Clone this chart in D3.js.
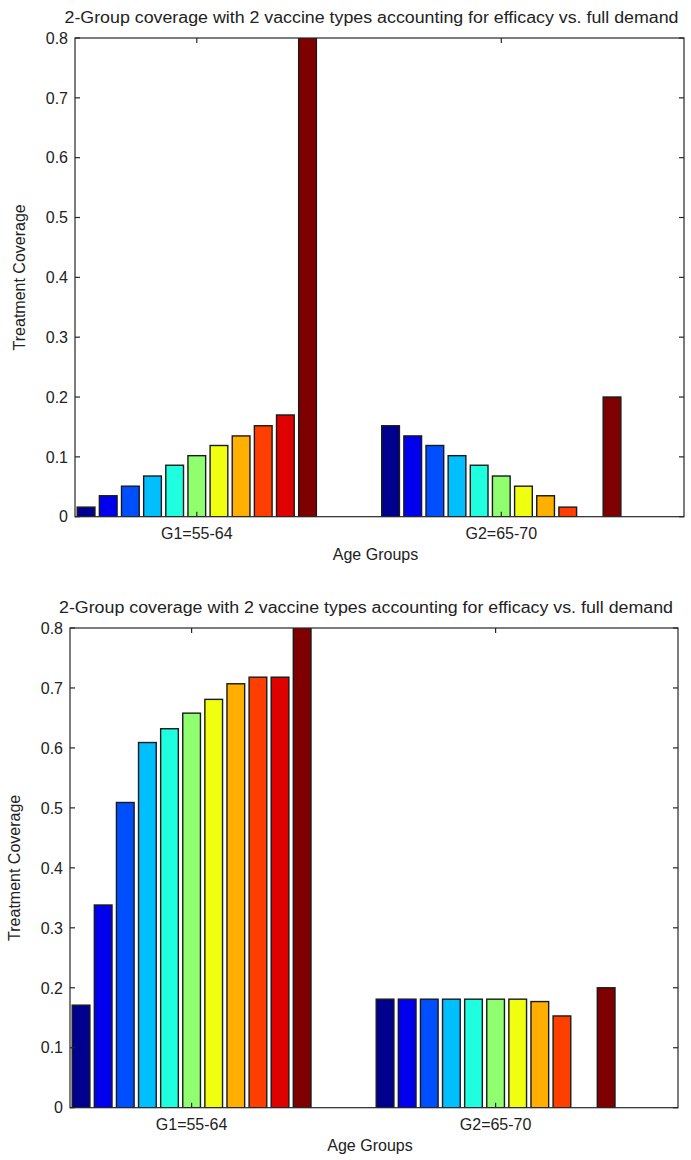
<!DOCTYPE html>
<html>
<head>
<meta charset="utf-8">
<script src="https://cdn.jsdelivr.net/npm/d3@7"></script>
<style>
  html, body { margin: 0; padding: 0; background: #fff; }
  svg { display: block; }
  text { font-family: "Liberation Sans", Arial, sans-serif; fill: #222; }
</style>
</head>
<body>
<svg id="chart" width="691" height="1160"></svg>
<script>
// ---- Data ----
const categories = ["G1=55-64", "G2=65-70"];
const seriesColors = ["#00008f", "#0000ef", "#004fff", "#00bfff", "#1fffdf",
                      "#8fff6f", "#efff0f", "#ffaf00", "#ff3f00", "#df0000", "#7f0000"];
const titleText = "2-Group coverage with 2 vaccine types accounting for efficacy vs. full demand";
const yLabelText = "Treatment Coverage";
const xLabelText = "Age Groups";
const yTickValues = [0, 0.1, 0.2, 0.3, 0.4, 0.5, 0.6, 0.7, 0.8];
const yTickLabels = ["0", "0.1", "0.2", "0.3", "0.4", "0.5", "0.6", "0.7", "0.8"];

// top chart (last G1 bar extends beyond the axis top)
const topG1 = [0.016, 0.035, 0.051, 0.068, 0.086, 0.102, 0.119, 0.135, 0.152, 0.170, 1.0];
const topG2 = [0.152, 0.135, 0.119, 0.102, 0.086, 0.068, 0.051, 0.035, 0.016, 0, 0.200];
// bottom chart
const bottomG1 = [0.171, 0.338, 0.509, 0.609, 0.632, 0.658, 0.681, 0.707, 0.718, 0.718, 1.0];
const bottomG2 = [0.181, 0.181, 0.181, 0.181, 0.181, 0.181, 0.181, 0.177, 0.153, 0, 0.200];

const svg = d3.select("#chart");

function drawChart(opts) {
  const { left, right, top, bottom, groups, id } = opts;
  const g = svg.append("g");
  const x = d3.scaleLinear().domain([0.6, 2.6]).range([left, right]);
  const y = d3.scaleLinear().domain([0, 0.8]).range([bottom, top]);
  const nS = seriesColors.length;
  const groupWidth = 0.8;
  const slot = groupWidth / nS;
  const barW = slot * 0.8;

  g.append("clipPath").attr("id", id).append("rect")
    .attr("x", left).attr("y", top).attr("width", right - left).attr("height", bottom - top);

  const bars = g.append("g").attr("clip-path", `url(#${id})`);
  groups.forEach((vals, gi) => {
    vals.forEach((v, si) => {
      if (v <= 0) return;
      const cx = (gi + 1) - groupWidth / 2 + (si + 0.5) * slot;
      const x0 = x(cx - barW / 2), x1 = x(cx + barW / 2);
      bars.append("rect")
        .attr("x", x0).attr("width", x1 - x0)
        .attr("y", y(v)).attr("height", y(0) - y(v))
        .attr("fill", seriesColors[si])
        .attr("stroke", "#1a1a1a").attr("stroke-width", 1.4);
    });
  });

  // box
  g.append("rect").attr("x", left).attr("y", top)
    .attr("width", right - left).attr("height", bottom - top)
    .attr("fill", "none").attr("stroke", "#262626").attr("stroke-width", 1.2);

  const tl = 5;
  // y ticks (inside, both sides)
  yTickValues.forEach((t, i) => {
    const yy = y(t);
    g.append("line").attr("x1", left).attr("x2", left + tl).attr("y1", yy).attr("y2", yy)
      .attr("stroke", "#262626").attr("stroke-width", 1.2);
    g.append("line").attr("x1", right).attr("x2", right - tl).attr("y1", yy).attr("y2", yy)
      .attr("stroke", "#262626").attr("stroke-width", 1.2);
    g.append("text").attr("x", left - 7).attr("y", yy).attr("dy", "0.36em")
      .attr("text-anchor", "end").attr("font-size", 16).text(yTickLabels[i]);
  });
  // x ticks (inside, top and bottom)
  categories.forEach((c, i) => {
    const xx = x(i + 1);
    g.append("line").attr("x1", xx).attr("x2", xx).attr("y1", bottom).attr("y2", bottom - tl)
      .attr("stroke", "#262626").attr("stroke-width", 1.2);
    g.append("line").attr("x1", xx).attr("x2", xx).attr("y1", top).attr("y2", top + tl)
      .attr("stroke", "#262626").attr("stroke-width", 1.2);
    g.append("text").attr("x", xx).attr("y", bottom + 22)
      .attr("text-anchor", "middle").attr("font-size", 16).text(c);
  });

  const cxAxes = (left + right) / 2;
  g.append("text").attr("x", cxAxes - 4).attr("y", bottom + 43)
    .attr("text-anchor", "middle").attr("font-size", 16).text(xLabelText);

  g.append("text")
    .attr("transform", `translate(${left - 50},${(top + bottom) / 2}) rotate(-90)`)
    .attr("text-anchor", "middle").attr("font-size", 16).text(yLabelText);

  g.append("text").attr("x", cxAxes - 8).attr("y", top - 15)
    .attr("text-anchor", "middle").attr("font-size", 16)
    .attr("textLength", 614).attr("lengthAdjust", "spacingAndGlyphs")
    .text(titleText);
}

drawChart({ id: "clipTop", left: 75, right: 684, top: 38, bottom: 516.7, groups: [topG1, topG2] });
drawChart({ id: "clipBot", left: 70, right: 678, top: 628, bottom: 1107.7, groups: [bottomG1, bottomG2] });
</script>
</body>
</html>
